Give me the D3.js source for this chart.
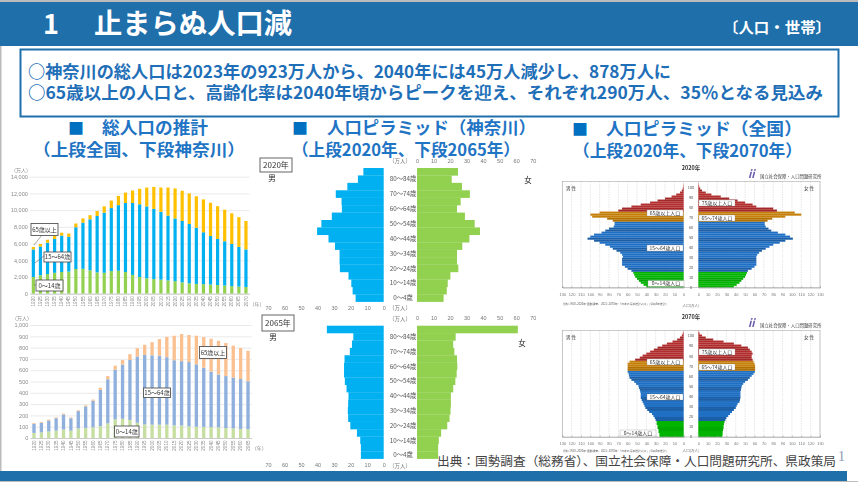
<!DOCTYPE html>
<html lang="ja">
<head>
<meta charset="utf-8">
<script src="https://cdn.jsdelivr.net/npm/d3@7"></script>
<style>
html, body { margin: 0; padding: 0; background: #fff; }
svg { display: block; font-family: "Noto Sans CJK JP", sans-serif; }
.soft { filter: blur(0.35px); }
</style>
</head>
<body>
<div id="chart"></div>
<script>
// 総人口の推計(全国)
const yearsJapan = d3.range(1920, 2071, 5).map(String);
const japanYoung = [2000,2200,2350,2500,2600,2650,2950,2980,2800,2550,2500,2700,2750,2600,2250,2000,1850,1750,1680,1590,1500,1360,1240,1170,1140,1100,1040,980,900,850,800];
const japanWork = [3300,3450,3750,4050,4350,4150,5000,5520,6100,6750,7200,7550,7850,8250,8600,8700,8600,8400,8120,7760,7500,7340,7110,6730,6210,5800,5510,5300,5050,4750,4500];
const japanOld = [300,300,350,350,350,400,450,500,500,600,750,900,1100,1250,1500,1850,2250,2630,2900,3350,3600,3620,3660,3760,3930,3980,3920,3770,3670,3560,3400];

// 総人口の推計(神奈川)
const yearsKanagawa = d3.range(1920, 2066, 5).map(String);
const kanaYoung = [45,50,58,65,75,65,85,90,95,105,130,165,170,160,135,120,118,118,118,112,110,103,100,98,97,95,88,85,80,78];
const kanaWork = [80,85,97,110,133,110,153,190,235,320,390,440,480,530,587,615,614,610,597,576,570,569,552,524,491,467,460,450,442,424];
const kanaOld = [7,7,8,7,8,7,7,9,10,20,28,35,40,52,73,90,116,147,180,217,240,240,253,271,290,298,292,283,275,270];

// 人口ピラミッド(神奈川) 0~4歳から85歳以上まで
const ageGroups = ["0～4歳","5～9歳","10～14歳","15～19歳","20～24歳","25～29歳","30～34歳","35～39歳","40～44歳","45～49歳","50～54歳","55～59歳","60～64歳","65～69歳","70～74歳","75～79歳","80～84歳","85歳～"];
const ageLabels = ["0～4歳","10～14歳","20～24歳","30～34歳","40～44歳","50～54歳","60～64歳","70～74歳","80～84歳"];
const male2020 = [17,18.8,19.6,21.3,26.5,26.7,26.7,29.5,33.4,40.3,37.7,31.4,25.3,25.5,29,22,15.6,12.3];
const female2020 = [16.1,18,18.6,20.2,25,24.2,24.2,27.4,31.7,38.1,34.9,29,24.2,26.4,32,27.2,21,24.8];
const male2065 = [13.8,13.8,14.2,16.2,20.2,21.5,21.7,21.5,21.3,22.5,23.5,24,24,23.7,20.5,19.2,18.4,34.4];
const female2065 = [12.8,12.8,13.2,14.6,18.3,19.7,20.3,20.5,20.5,21.9,23.2,24,24.4,24.2,22.6,21.9,23.4,61];
const prefTicks = [0,10,20,30,40,50,60,70];

// 人口ピラミッド(全国) 2歳刻み
const nationAges = d3.range(0, 105, 2);
const natMale2020 = [40,43,46,48,50,52,53,54,56,60,63,66,66,66,66,65,66,68,72,76,79,84,90,96,103,100,96,88,84,80,75,74,74,76,82,98,100,90,70,66,56,46,36,28,20,13,8,4,2,1,0.5,0.3,0.1];
const natFemale2020 = [38,41,44,46,48,50,51,52,53,57,60,62,62,62,62,62,63,65,68,72,76,80,87,93,101,98,93,85,78,75,72,71,71,74,79,93,110,103,84,80,62,58,50,42,33,24,14,8,4,2,1,0.5,0.2];
const natMale2070 = [26,26,27,27,28,28,29,29,30,31,32.5,34,37,39,41,42,43,44,45,46,46,46,46.5,47,48,48.5,51,53,56,58,58.5,59,60,60,60,60,60,58,52,47,44,40,36,32,28,23,18,12,7,4,2,1,0.3];
const natFemale2070 = [25.7,26,26,26.5,27,27,27.5,28,29,30,32,34,36,38,40,41,42,44,44.5,45,45,45,45,45.5,46,46.5,48,50,53,55,57,59,60.5,60.7,60.7,60.7,60,59,58,57,57,58,57,55,53,46,38,27,16,8,4,1.5,0.5];
const natTicks = d3.range(0, 131, 10);
const natAgeTicks = d3.range(0, 101, 10);

const width = 858, height = 482;
const svg = d3.select("#chart").append("svg").attr("width", width).attr("height", height);

// 枠と見出し
svg.append("rect").attr("width", width).attr("height", height).attr("fill", "#fff");
svg.append("rect").attr("width", width).attr("height", 2).attr("fill", "#bbb");
svg.append("rect").attr("width", 1.5).attr("height", height).attr("fill", "#bbb");
svg.append("rect").attr("y", 481).attr("width", width).attr("height", 1).attr("fill", "#bbb");
svg.append("rect").attr("y", 2).attr("width", width).attr("height", 44).attr("fill", "#1f6fab");
svg.append("rect").attr("y", 471).attr("width", 847).attr("height", 10).attr("fill", "#1f6fab");

function label(text, x, y, size, fill, opts = {}) {
	const t = svg.append("text")
		.attr("x", x).attr("y", y)
		.attr("font-size", size)
		.attr("fill", fill)
		.attr("font-weight", opts.weight || 400)
		.attr("text-anchor", opts.anchor || "start")
		.text(text);
	if (opts.fit) t.attr("textLength", opts.fit).attr("lengthAdjust", "spacingAndGlyphs");
	return t;
}

label("1", 43, 34, 27, "#fff", { weight: 700 });
label("止まらぬ人口減", 94, 34, 28, "#fff", { weight: 700, fit: 198 });
label("〔人口・世帯〕", 723, 33, 15, "#fff", { weight: 700, fit: 108 });

svg.append("rect").attr("x", 20.5).attr("y", 49.5).attr("width", 818).attr("height", 67)
	.attr("fill", "#fff").attr("stroke", "#1f6fab").attr("stroke-width", 2);
label("○神奈川の総人口は2023年の923万人から、2040年には45万人減少し、878万人に", 28, 78, 17, "#1f6fb8", { weight: 700, fit: 643 });
label("○65歳以上の人口と、高齢化率は2040年頃からピークを迎え、それぞれ290万人、35％となる見込み", 28, 99, 17, "#1f6fb8", { weight: 700, fit: 795 });

const blue = "#1f74c4";
label("■", 68, 134, 16, "#0070c0", { weight: 700 });
label("総人口の推計", 102, 134, 17, blue, { weight: 700, fit: 106 });
label("（上段全国、下段神奈川）", 33, 156, 16.5, blue, { weight: 700, fit: 212 });
label("■", 292, 134, 16, "#0070c0", { weight: 700 });
label("人口ピラミッド（神奈川）", 327, 134, 17, blue, { weight: 700, fit: 209 });
label("（上段2020年、下段2065年）", 292, 156, 16.5, blue, { weight: 700, fit: 228 });
label("■", 572, 135, 16, "#0070c0", { weight: 700 });
label("人口ピラミッド（全国）", 606, 135, 17, blue, { weight: 700, fit: 196 });
label("（上段2020年、下段2070年）", 573, 157, 16.5, blue, { weight: 700, fit: 229 });

// 積み上げ棒グラフ
function stackedChart(cfg) {
	const g = svg.append("g").attr("class", "soft");
	const rows = cfg.years.map((year, i) => ({ year, young: cfg.young[i], work: cfg.work[i], old: cfg.old[i] }));

	const x = d3.scaleBand().domain(cfg.years).range([cfg.left, cfg.right]).paddingInner(0.55).paddingOuter(0.275);
	const y = d3.scaleLinear().domain([0, cfg.max]).range([cfg.bottom, cfg.top]);

	g.append("g")
		.attr("transform", `translate(${cfg.left},0)`)
		.call(d3.axisLeft(y).tickValues(d3.range(0, cfg.max + 1, cfg.step)).tickSize(cfg.left - cfg.right).tickFormat(d3.format(",")))
		.call(a => a.select(".domain").remove())
		.call(a => a.selectAll("line").attr("stroke", "#e4e4e4").attr("stroke-width", 0.8))
		.call(a => a.selectAll("text").attr("fill", "#8a8a8a").attr("font-size", 5.5).attr("x", -2));

	const layers = d3.stack().keys(["young", "work", "old"])(rows);
	g.selectAll("g.layer").data(layers).enter().append("g")
		.attr("fill", (d, i) => cfg.colors[i])
		.selectAll("rect").data(d => d).enter().append("rect")
		.attr("x", d => x(d.data.year))
		.attr("y", d => y(d[1]))
		.attr("width", x.bandwidth())
		.attr("height", d => y(d[0]) - y(d[1]));

	g.append("g")
		.attr("transform", `translate(0,${cfg.bottom})`)
		.call(d3.axisBottom(x).tickSize(0))
		.call(a => a.select(".domain").attr("stroke", "#ccc"))
		.call(a => a.selectAll("text")
			.attr("fill", "#8a8a8a").attr("font-size", 4.6)
			.attr("transform", "rotate(-90)").attr("text-anchor", "end")
			.attr("x", -2.5).attr("y", 0).attr("dy", "0.35em"));

	g.append("text").attr("x", cfg.unitX).attr("y", cfg.top - 5).attr("font-size", 5).attr("fill", "#8a8a8a").text("（万人）");
	g.append("text").attr("x", cfg.right).attr("y", cfg.bottom + 12).attr("font-size", 5).attr("fill", "#8a8a8a").text("（年）");

	cfg.leaders.forEach(l => {
		g.append("line").attr("x1", l[0]).attr("y1", l[1]).attr("x2", l[2]).attr("y2", l[3]).attr("stroke", "#666").attr("stroke-width", 0.6);
	});
	cfg.notes.forEach(n => {
		g.append("rect").attr("x", n.x).attr("y", n.y).attr("width", n.w).attr("height", n.h)
			.attr("fill", "#fff").attr("stroke", "#555").attr("stroke-width", 0.9);
		g.append("text").attr("x", n.x + n.w / 2).attr("y", n.y + n.h / 2 + 2.2)
			.attr("text-anchor", "middle").attr("font-size", 6).attr("fill", "#333").text(n.text);
	});
}

stackedChart({
	years: yearsJapan, young: japanYoung, work: japanWork, old: japanOld,
	left: 29.8, right: 249.5, top: 176.7, bottom: 293.7, max: 14000, step: 2000, unitX: 11,
	colors: ["#92d050", "#00b0f0", "#ffc000"],
	leaders: [[34, 245, 46, 230], [35, 263, 45, 255], [34, 285, 38, 285]],
	notes: [
		{ text: "65歳以上", x: 31, y: 223.5, w: 27, h: 12 },
		{ text: "15～64歳", x: 44, y: 252, w: 27, h: 10 },
		{ text: "0～14歳", x: 36, y: 280, w: 27, h: 11 }
	]
});

stackedChart({
	years: yearsKanagawa, young: kanaYoung, work: kanaWork, old: kanaOld,
	left: 30.3, right: 251.7, top: 325, bottom: 438, max: 1000, step: 100, unitX: 12,
	colors: ["#c6dea0", "#8fb0dc", "#fac090"],
	leaders: [],
	notes: [
		{ text: "65歳以上", x: 199.5, y: 346.5, w: 27, h: 12 },
		{ text: "15～64歳", x: 143.5, y: 388, w: 27, h: 9.5 },
		{ text: "0～14歳", x: 114.5, y: 426, w: 24.5, h: 11 }
	]
});

// 神奈川のピラミッド
function prefPyramid(cfg) {
	const g = svg.append("g").attr("class", "soft");
	const yBand = d3.scaleBand().domain(ageGroups).range([cfg.bottom, cfg.top]).padding(0);
	const xLeft = d3.scaleLinear().domain([0, 70]).range([383.7, 268]);
	const xRight = d3.scaleLinear().domain([0, 70]).range([417, 532.7]);

	g.selectAll("rect.m").data(cfg.male).enter().append("rect")
		.attr("x", d => xLeft(d))
		.attr("y", (d, i) => yBand(ageGroups[i]))
		.attr("width", d => xLeft(0) - xLeft(d))
		.attr("height", yBand.bandwidth() + 0.2)
		.attr("fill", "#00b0f0");
	g.selectAll("rect.f").data(cfg.female).enter().append("rect")
		.attr("x", xRight(0))
		.attr("y", (d, i) => yBand(ageGroups[i]))
		.attr("width", d => xRight(d) - xRight(0))
		.attr("height", yBand.bandwidth() + 0.2)
		.attr("fill", "#92d050");

	g.append("g").attr("transform", `translate(0,${cfg.topAxis})`)
		.call(d3.axisTop(xRight).tickValues(prefTicks).tickSize(0))
		.call(a => a.select(".domain").remove())
		.call(a => a.selectAll("text").attr("fill", "#777").attr("font-size", 5.5).attr("y", 0).attr("dy", "0.35em"));
	g.append("g").attr("transform", `translate(0,${cfg.bottomAxis})`)
		.call(d3.axisBottom(xLeft).tickValues(prefTicks).tickSize(0))
		.call(a => a.select(".domain").remove())
		.call(a => a.selectAll("text").attr("fill", "#777").attr("font-size", 5.5).attr("y", 0).attr("dy", "0.35em"));

	ageLabels.forEach(t => {
		g.append("text").attr("x", 403).attr("y", yBand(t) + yBand.bandwidth() / 2 + 2.3)
			.attr("text-anchor", "middle").attr("font-size", 6.3).attr("fill", "#555").text(t);
	});

	g.append("text").attr("x", 400).attr("y", cfg.topAxis + 2).attr("text-anchor", "middle").attr("font-size", 5.5).attr("fill", "#777").text("（万人）");
	g.append("text").attr("x", 400).attr("y", cfg.bottomAxis + 2).attr("text-anchor", "middle").attr("font-size", 5.5).attr("fill", "#777").text("（万人）");

	g.append("rect").attr("x", cfg.boxX).attr("y", cfg.boxY).attr("width", 32).attr("height", cfg.boxH)
		.attr("fill", "#fff").attr("stroke", "#555").attr("stroke-width", 0.9);
	g.append("text").attr("x", cfg.boxX + 16).attr("y", cfg.boxY + cfg.boxH / 2 + 3)
		.attr("text-anchor", "middle").attr("font-size", 8).attr("fill", "#333").text(cfg.year);
	g.append("text").attr("x", cfg.maleX).attr("y", cfg.maleY).attr("text-anchor", "middle").attr("font-size", 7.5).attr("fill", "#222").text("男");
	g.append("text").attr("x", cfg.femaleX).attr("y", cfg.femaleY).attr("text-anchor", "middle").attr("font-size", 7.5).attr("fill", "#222").text("女");
}

prefPyramid({
	year: "2020年", male: male2020, female: female2020,
	top: 168, bottom: 301.7, topAxis: 161, bottomAxis: 308,
	boxX: 260, boxY: 158, boxH: 14, maleX: 272, maleY: 181, femaleX: 528, femaleY: 183
});
prefPyramid({
	year: "2065年", male: male2065, female: female2065,
	top: 325.7, bottom: 458.7, topAxis: 318.5, bottomAxis: 465.5,
	boxX: 262, boxY: 315, boxH: 16, maleX: 273, maleY: 340, femaleX: 522, femaleY: 346
});

// 全国のピラミッド
function nationColor(age) {
	const stripe = Math.floor(age / 5) % 2 === 1;
	if (age < 15) return stripe ? "#00a800" : "#00b400";
	if (age < 65) return stripe ? "#1b5fa8" : "#1f70c4";
	if (age < 75) return stripe ? "#b27000" : "#c4800a";
	return stripe ? "#a52828" : "#b22e2e";
}

function nationPyramid(cfg) {
	const g = svg.append("g").attr("class", "soft");
	const y = d3.scaleBand().domain(nationAges).range([cfg.bottom, cfg.top]);
	const xLeft = d3.scaleLinear().domain([0, 130]).range([683.7, 562.3]);
	const xRight = d3.scaleLinear().domain([0, 130]).range([698.3, 820]);

	[xLeft, xRight].forEach(x => {
		g.append("g").selectAll("line").data(natTicks.slice(1)).enter().append("line")
			.attr("x1", d => x(d)).attr("x2", d => x(d))
			.attr("y1", cfg.top).attr("y2", cfg.bottom)
			.attr("stroke", "#ccc").attr("stroke-width", 0.5).attr("stroke-dasharray", "1.5,1");
	});

	g.selectAll("rect.m").data(cfg.male).enter().append("rect")
		.attr("x", d => xLeft(d))
		.attr("y", (d, i) => y(nationAges[i]))
		.attr("width", d => xLeft(0) - xLeft(d))
		.attr("height", y.bandwidth() + 0.1)
		.attr("fill", (d, i) => nationColor(nationAges[i]));
	g.selectAll("rect.f").data(cfg.female).enter().append("rect")
		.attr("x", xRight(0))
		.attr("y", (d, i) => y(nationAges[i]))
		.attr("width", d => xRight(d) - xRight(0))
		.attr("height", y.bandwidth() + 0.1)
		.attr("fill", (d, i) => nationColor(nationAges[i]));

	g.append("rect").attr("x", 562.3).attr("y", cfg.top).attr("width", 257.7).attr("height", cfg.bottom - cfg.top)
		.attr("fill", "none").attr("stroke", "#aaa").attr("stroke-width", 0.6);

	[xLeft, xRight].forEach(x => {
		g.append("g").attr("transform", `translate(0,${cfg.bottom})`)
			.call(d3.axisBottom(x).tickValues(natTicks).tickSize(-1.5).tickPadding(5))
			.call(a => a.select(".domain").attr("stroke", "#999").attr("stroke-width", 0.5))
			.call(a => a.selectAll("line").attr("stroke", "#999").attr("stroke-width", 0.5))
			.call(a => a.selectAll("text").attr("fill", "#777").attr("font-size", 4));
	});

	const yAge = d3.scaleLinear().domain([0, 100]).range([cfg.bottom, cfg.age100]);
	natAgeTicks.forEach(a => {
		g.append("text").attr("x", 691).attr("y", yAge(a) + 1.3).attr("text-anchor", "middle").attr("font-size", 3.8).attr("fill", "#555").text(a);
	});

	g.append("text").attr("x", 691).attr("y", cfg.titleY).attr("text-anchor", "middle").attr("font-size", 5.5).attr("font-weight", 700).attr("fill", "#333").text(cfg.year);
	g.append("text").attr("x", 760).attr("y", cfg.titleY + 7.5).attr("font-size", 4.4).attr("fill", "#444").text("国立社会保障・人口問題研究所");
	g.append("text").attr("x", 748).attr("y", cfg.titleY + 8).attr("font-size", 11).attr("font-weight", 700).attr("font-style", "italic").attr("fill", "#6a5fb0").text("ii");

	g.append("text").attr("x", 566).attr("y", cfg.top + 8).attr("font-size", 4.6).attr("fill", "#333").text("男 性");
	g.append("text").attr("x", 804).attr("y", cfg.top + 8).attr("font-size", 4.6).attr("fill", "#333").text("女 性");
	g.append("text").attr("x", 563).attr("y", cfg.noteY).attr("font-size", 2.8).attr("fill", "#666").text("資料:1920~2020年:国勢調査、2021~2070年:「日本の将来推計人口」(令和5年推計)");
	g.append("text").attr("x", 691).attr("y", cfg.unitY).attr("text-anchor", "middle").attr("font-size", 3.6).attr("fill", "#666").text("人口(万人)");

	cfg.notes.forEach(n => {
		g.append("rect").attr("x", n.x).attr("y", n.y).attr("width", 36).attr("height", 6)
			.attr("fill", "#fff").attr("stroke", "#888").attr("stroke-width", 0.3);
		g.append("text").attr("x", n.x + 18).attr("y", n.y + 4.7)
			.attr("text-anchor", "middle").attr("font-size", 5).attr("fill", "#333").text(n.text);
	});
}

nationPyramid({
	year: "2020年", male: natMale2020, female: natFemale2020,
	top: 181.5, bottom: 287.7, age100: 187.3, titleY: 170, noteY: 305, unitY: 307,
	notes: [
		{ text: "75歳以上人口", x: 699, y: 200 },
		{ text: "65歳以上人口", x: 647, y: 210 },
		{ text: "65～74歳人口", x: 699, y: 215 },
		{ text: "15～64歳人口", x: 647, y: 245 },
		{ text: "0～14歳人口", x: 648, y: 280.5 }
	]
});
nationPyramid({
	year: "2070年", male: natMale2070, female: natFemale2070,
	top: 330.5, bottom: 437, age100: 336, titleY: 319, noteY: 451.5, unitY: 451.5,
	notes: [
		{ text: "75歳以上人口", x: 699, y: 349 },
		{ text: "65歳以上人口", x: 647, y: 359 },
		{ text: "65～74歳人口", x: 699, y: 364 },
		{ text: "15～64歳人口", x: 647, y: 394 },
		{ text: "0～14歳人口", x: 620, y: 430 }
	]
});

// 出典
label("出典：国勢調査（総務省）、国立社会保障・人口問題研究所、県政策局", 437, 466, 12.5, "#444", { fit: 399 });
label("1", 838, 461, 14, "#8a9bb0", {}).attr("font-family", "Liberation Serif, serif");
</script>
</body>
</html>
